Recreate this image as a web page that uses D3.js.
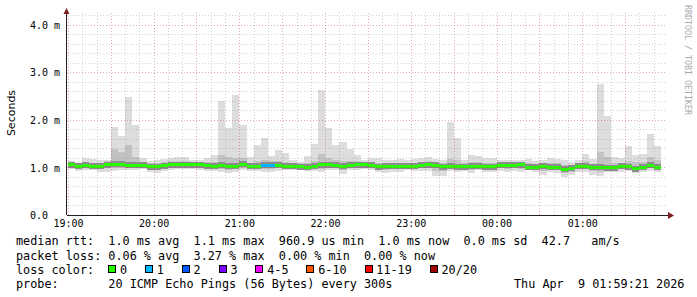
<!DOCTYPE html>
<html>
<head>
<meta charset="utf-8">
<script src="https://cdn.jsdelivr.net/npm/d3@7"></script>
<style>
body { margin: 0; background: #fff; }
text { font-family: "DejaVu Sans Mono", monospace; }
</style>
</head>
<body>
<script>
// graph size, same as the rrdtool png
var svgWidth = 697;
var svgHeight = 297;

// time window shown (7 hours ending at graph time)
var startTime = new Date(2026, 3, 8, 18, 59, 21);
var endTime = new Date(2026, 3, 9, 1, 59, 21);
var firstStep = new Date(2026, 3, 8, 19, 0, 0);
var stepSeconds = 300;

// median rtt per 5 min step, in ms
var median = [1.054,1.029,1.05,1.023,1.023,1.06,1.065,1.065,1.05,1.05,
  1.05,1.014,1.018,1.035,1.054,1.06,1.06,1.06,1.06,1.033,
  1.029,1.05,1.025,1.029,1.065,1.025,1.029,1.044,1.044,1.05,
  1.029,1.029,1.014,1.005,1.029,1.054,1.054,1.05,1.025,1.05,
  1.06,1.06,1.05,1.014,1.025,1.029,1.025,1.029,1.029,1.042,
  1.06,1.05,1.014,1.025,1.018,1.014,1.029,1.029,1.014,1.014,
  1.044,1.044,1.044,1.054,1.002,1.002,1.025,1.008,1.008,0.966,
  0.98,1.023,1.023,1.002,1.002,0.991,0.991,1.023,1.018,0.972,
  1.008,1.044,1.008];

// slowest ping per step (top of the smoke)
var pingMax = [1.134,1.098,1.19,1.176,1.155,1.155,1.85,1.66,2.48,1.89,
  1.20,1.13,1.155,1.176,1.20,1.22,1.22,1.155,1.155,1.19,
  1.26,2.39,1.82,2.52,1.89,1.21,1.47,1.61,1.24,1.365,
  1.31,1.155,1.12,1.23,1.49,2.625,1.82,1.47,1.53,1.38,
  1.25,1.155,1.19,1.19,1.155,1.155,1.17,1.155,1.17,1.19,
  1.22,1.17,1.155,1.96,1.61,1.155,1.26,1.24,1.19,1.19,
  1.155,1.155,1.155,1.155,1.17,1.14,1.155,1.19,1.17,1.155,
  1.12,1.155,1.28,1.17,2.75,2.08,1.21,1.19,1.45,1.26,
  1.28,1.70,1.45];

// upper edge of the denser smoke
var pingHi = [1.12,1.09,1.12,1.10,1.10,1.13,1.39,1.33,1.47,1.22,
  1.12,1.09,1.10,1.11,1.13,1.14,1.14,1.12,1.12,1.11,
  1.12,1.26,1.21,1.19,1.19,1.10,1.13,1.16,1.13,1.14,
  1.12,1.10,1.09,1.09,1.14,1.28,1.20,1.15,1.14,1.13,
  1.13,1.12,1.12,1.09,1.10,1.10,1.10,1.10,1.10,1.11,
  1.13,1.12,1.10,1.18,1.15,1.09,1.12,1.11,1.10,1.10,
  1.12,1.11,1.11,1.12,1.09,1.08,1.10,1.09,1.10,1.06,
  1.06,1.10,1.14,1.08,1.33,1.21,1.10,1.10,1.13,1.11,
  1.11,1.22,1.16];

// lower edge of the denser smoke
var pingLo = [0.99,0.97,0.99,0.97,0.96,0.99,0.99,0.99,0.99,0.99,
  0.99,0.96,0.94,0.97,0.99,1.00,1.00,1.00,0.99,0.97,
  0.97,0.97,0.95,0.96,0.99,0.97,0.97,0.97,0.97,0.98,
  0.98,0.97,0.97,0.96,0.97,0.97,0.99,0.99,0.95,0.99,
  0.99,1.00,0.99,0.96,0.95,0.96,0.96,0.98,0.97,0.98,
  0.99,0.93,0.93,0.97,0.96,0.96,0.94,0.98,0.96,0.96,
  0.98,0.97,0.98,0.97,0.96,0.95,0.92,0.95,0.94,0.88,
  0.91,0.96,0.96,0.92,0.91,0.95,0.95,0.96,0.97,0.93,
  0.95,0.98,0.95];

// fastest ping per step (bottom of the smoke)
var pingMin = [0.96,0.93,0.945,0.945,0.91,0.91,0.93,0.945,0.945,0.945,
  0.96,0.91,0.875,0.93,0.945,0.96,0.96,0.96,0.945,0.93,
  0.93,0.91,0.89,0.91,0.945,0.93,0.93,0.91,0.91,0.93,
  0.945,0.945,0.945,0.93,0.93,0.91,0.945,0.945,0.86,0.945,
  0.945,0.96,0.945,0.91,0.89,0.91,0.91,0.945,0.93,0.93,
  0.93,0.82,0.82,0.93,0.91,0.93,0.875,0.945,0.91,0.91,
  0.93,0.91,0.93,0.91,0.945,0.91,0.84,0.91,0.89,0.80,
  0.84,0.91,0.91,0.84,0.82,0.91,0.91,0.91,0.93,0.875,
  0.91,0.93,0.91];

// lost pings (of 20) per step
var lostPings = [0,0,0,0,0,0,0,0,0,0,
  0,0,0,0,0,0,0,0,0,0,
  0,0,0,0,0,0,0,1,1,0,
  0,0,0,0,0,0,0,0,0,0,
  0,0,0,0,0,0,0,0,0,0,
  0,0,0,0,0,0,0,0,0,0,
  0,0,0,0,0,0,0,0,0,0,
  0,0,0,0,0,0,0,0,0,0,
  0,0,0];

var yTicks = [0, 1, 2, 3, 4];
var yTickLabels = ["0.0", "1.0 m", "2.0 m", "3.0 m", "4.0 m"];

var lossLabels = ["0", "1", "2", "3", "4-5", "6-10", "11-19", "20/20"];
var lossColors = ["#26ff00", "#00b8ff", "#0059ff", "#7e00ff", "#ff00ff", "#ff5500", "#ff0000", "#a10000"];

var legendLines = [
  "median rtt:  1.0 ms avg  1.1 ms max  960.9 us min  1.0 ms now  0.0 ms sd  42.7   am/s",
  "packet loss: 0.06 % avg  3.27 % max  0.00 % min  0.00 % now",
  "loss color:",
  "probe:       20 ICMP Echo Pings (56 Bytes) every 300s"
];
var stampText = "Thu Apr  9 01:59:21 2026";

// plot box
var plotLeft = 67, plotRight = 667, plotTop = 15, plotBottom = 215;
var charW = 7.1;

var svg = d3.select("body")
    .append("svg")
    .attr("width", svgWidth)
    .attr("height", svgHeight);

var x = d3.scaleTime().domain([startTime, endTime]).range([plotLeft, plotRight]);
var y = d3.scaleLinear().domain([0, 4.2]).range([plotBottom, plotTop]);

var steps = median.map(function(m, i) {
  var t0 = new Date(+firstStep + i * stepSeconds * 1000);
  var t1 = new Date(+t0 + stepSeconds * 1000);
  return {t0: t0, t1: t1, med: m, max: pingMax[i], hi: pingHi[i], lo: pingLo[i], min: pingMin[i], loss: lostPings[i]};
});

function lossColor(n) {
  if (n == 0) return lossColors[0];
  if (n == 1) return lossColors[1];
  if (n == 2) return lossColors[2];
  if (n == 3) return lossColors[3];
  if (n <= 5) return lossColors[4];
  if (n <= 10) return lossColors[5];
  if (n <= 19) return lossColors[6];
  return lossColors[7];
}

var data = svg.append("g").attr("shape-rendering", "crispEdges");

// outer smoke
data.selectAll("rect.smoke")
    .data(steps)
    .enter()
    .append("rect")
    .attr("class", "smoke")
    .attr("x", function(d) { return x(d.t0); })
    .attr("width", function(d) { return x(d.t1) - x(d.t0); })
    .attr("y", function(d) { return y(d.max); })
    .attr("height", function(d) { return y(d.min) - y(d.max); })
    .style("fill", "#dddddd");

// denser smoke
data.selectAll("rect.smoke2")
    .data(steps)
    .enter()
    .append("rect")
    .attr("class", "smoke2")
    .attr("x", function(d) { return x(d.t0); })
    .attr("width", function(d) { return x(d.t1) - x(d.t0); })
    .attr("y", function(d) { return y(d.hi); })
    .attr("height", function(d) { return y(d.lo) - y(d.hi); })
    .style("fill", "#c2c2c2");

// darkest smoke right around the median
data.selectAll("rect.smoke3")
    .data(steps)
    .enter()
    .append("rect")
    .attr("class", "smoke3")
    .attr("x", function(d) { return x(d.t0); })
    .attr("width", function(d) { return x(d.t1) - x(d.t0); })
    .attr("y", function(d) { return y(d.med) - 3; })
    .attr("height", 6)
    .style("fill", "#8c8c8c");

// median line, coloured by loss
data.selectAll("rect.med")
    .data(steps)
    .enter()
    .append("rect")
    .attr("class", "med")
    .attr("x", function(d) { return x(d.t0); })
    .attr("width", function(d) { return x(d.t1) - x(d.t0); })
    .attr("y", function(d) { return y(d.med) - 1.5; })
    .attr("height", 3)
    .style("fill", function(d) { return lossColor(d.loss); });

// grid goes on top of the data like rrdtool does
var grid = svg.append("g").attr("shape-rendering", "crispEdges");
var minorColor = "rgba(140,140,140,0.4)";
var majorColor = "rgba(180,40,40,0.38)";

d3.range(1, 22).forEach(function(k) {
  var v = k / 5;
  var yy = Math.round(y(v)) + 0.5;
  grid.append("line")
      .attr("x1", plotLeft).attr("x2", plotRight)
      .attr("y1", yy).attr("y2", yy)
      .style("stroke", k % 5 == 0 ? majorColor : minorColor)
      .style("stroke-dasharray", "1,2");
});

d3.timeMinute.every(10).range(startTime, endTime).forEach(function(t) {
  var xx = Math.round(x(t)) + 0.5;
  if (xx <= plotLeft + 1) return;
  grid.append("line")
      .attr("x1", xx).attr("x2", xx)
      .attr("y1", plotTop - 2).attr("y2", plotBottom)
      .style("stroke", t.getMinutes() % 30 == 0 ? majorColor : minorColor)
      .style("stroke-dasharray", "1,2");
});

// axes (labels from d3 axes, lines drawn rrdtool style)
var yAxis = svg.append("g")
    .attr("transform", "translate(" + plotLeft + ",0)")
    .call(d3.axisLeft(y).tickValues(yTicks).tickSize(0)
      .tickFormat(function(d, i) { return yTickLabels[i]; }));
yAxis.select(".domain").remove();
yAxis.selectAll("text")
    .attr("x", 30 - plotLeft)
    .attr("dy", "0.37em")
    .attr("text-anchor", "start")
    .style("font-family", "'DejaVu Sans Mono', monospace")
    .style("font-size", "10px")
    .style("fill", "#000");

var xAxis = svg.append("g")
    .attr("transform", "translate(0," + plotBottom + ")")
    .call(d3.axisBottom(x).ticks(d3.timeHour.every(1)).tickSize(0)
      .tickFormat(d3.timeFormat("%H:%M")));
xAxis.select(".domain").remove();
xAxis.selectAll("text")
    .attr("y", 5)
    .attr("dy", "0.7em")
    .style("font-family", "'DejaVu Sans Mono', monospace")
    .style("font-size", "10px")
    .style("fill", "#000");

var axes = svg.append("g").attr("shape-rendering", "crispEdges");
axes.append("line")
    .attr("x1", plotLeft - 0.5).attr("x2", plotLeft - 0.5)
    .attr("y1", plotBottom).attr("y2", plotTop - 5)
    .style("stroke", "#1f1f1f");
axes.append("line")
    .attr("x1", plotLeft).attr("x2", plotRight + 3)
    .attr("y1", plotBottom + 0.5).attr("y2", plotBottom + 0.5)
    .style("stroke", "#1f1f1f");
svg.append("path")
    .attr("d", "M63.5,14 L69.5,14 L66.5,8 Z")
    .style("fill", "#7f1f1f");
svg.append("path")
    .attr("d", "M668,212 L668,219 L674,215.5 Z")
    .style("fill", "#7f1f1f");

// vertical axis title
svg.append("text")
    .attr("transform", "translate(15,113) rotate(-90)")
    .attr("text-anchor", "middle")
    .style("font-family", "'DejaVu Sans', sans-serif")
    .style("font-size", "11px")
    .text("Seconds");

// watermark
svg.append("text")
    .attr("transform", "translate(685,5) rotate(90)")
    .style("font-size", "8.3px")
    .style("fill", "#aaaaaa")
    .text("RRDTOOL / TOBI OETIKER");

// legend
var baselines = [245, 259.5, 273.5, 287.5];
legendLines.forEach(function(s, i) {
  svg.append("text")
      .attr("x", 16)
      .attr("y", baselines[i])
      .attr("xml:space", "preserve")
      .style("white-space", "pre")
      .style("font-size", "11.8px")
      .text(s);
});

svg.append("text")
    .attr("x", 514)
    .attr("y", baselines[3])
    .attr("xml:space", "preserve")
    .style("white-space", "pre")
    .style("font-size", "11.8px")
    .text(stampText);

var cursor = 16 + 13 * charW;
lossLabels.forEach(function(lab, i) {
  svg.append("rect")
      .attr("x", Math.round(cursor) + 0.5)
      .attr("y", 265.5)
      .attr("width", 7)
      .attr("height", 7)
      .attr("shape-rendering", "crispEdges")
      .style("fill", lossColors[i])
      .style("stroke", "#000");
  svg.append("text")
      .attr("x", cursor + 11.7)
      .attr("y", baselines[2])
      .style("font-size", "11.8px")
      .text(lab);
  cursor = cursor + 11.7 + lab.length * charW + 18;
});
</script>
</body>
</html>
